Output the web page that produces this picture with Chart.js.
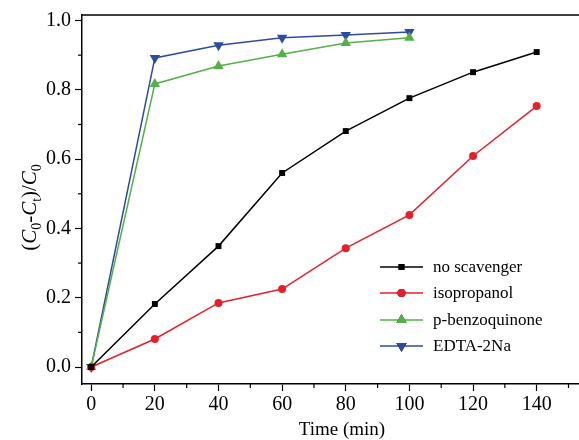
<!DOCTYPE html>
<html>
<head>
<meta charset="utf-8">
<script src="https://cdn.jsdelivr.net/npm/chart.js@4.4.1/dist/chart.umd.min.js"></script>
<style>
  html, body { margin: 0; padding: 0; background: #fff; overflow: hidden; }
  #wrap { position: relative; width: 579px; height: 440px; }
  canvas { display: block; }
</style>
</head>
<body>
<div id="wrap"><canvas id="scavenger_chart"></canvas></div>
<script>
/* =========================
   Data
========================= */
const times = [0, 20, 40, 60, 80, 100, 120, 140];
const timesShort = [0, 20, 40, 60, 80, 100];

const noScavenger = [0, 0.182, 0.349, 0.560, 0.681, 0.776, 0.851, 0.909];
const isopropanol = [0, 0.081, 0.185, 0.225, 0.343, 0.439, 0.609, 0.753];
const benzoquinone = [0, 0.817, 0.869, 0.903, 0.935, 0.950];
const edta = [0, 0.892, 0.929, 0.950, 0.958, 0.967];

const seriesLabels = ['no scavenger', 'isopropanol', 'p-benzoquinone', 'EDTA-2Na'];
const xTicks = [0, 20, 40, 60, 80, 100, 120, 140];
const yTicks = [0, 0.2, 0.4, 0.6, 0.8, 1.0];
const xMinorTicks = [10, 30, 50, 70, 90, 110, 130, 150];
const yMinorTicks = [0.1, 0.3, 0.5, 0.7, 0.9];

const FONT = '"Liberation Serif", "Times New Roman", serif';

function toPoints(xs, ys) {
    return ys.map((y, i) => ({ x: xs[i], y: y }));
}

/* =========================
   Extra drawing: frame, minor ticks, titles, legend
========================= */
const decorPlugin = {
    id: 'decor',
    afterDraw(chart) {
        const ctx = chart.ctx;
        const area = chart.chartArea;
        const xs = chart.scales.x;
        const ys = chart.scales.y;

        ctx.save();
        ctx.strokeStyle = '#000';
        ctx.lineWidth = 1.5;

        // top frame line
        ctx.beginPath();
        ctx.moveTo(area.left, area.top);
        ctx.lineTo(chart.width, area.top);
        ctx.stroke();

        // minor ticks
        ctx.lineWidth = 1.2;
        xMinorTicks.forEach(v => {
            const px = xs.getPixelForValue(v);
            if (px > chart.width) return;
            ctx.beginPath();
            ctx.moveTo(px, area.bottom);
            ctx.lineTo(px, area.bottom + 4);
            ctx.stroke();
        });
        yMinorTicks.forEach(v => {
            const py = ys.getPixelForValue(v);
            ctx.beginPath();
            ctx.moveTo(area.left, py);
            ctx.lineTo(area.left - 4, py);
            ctx.stroke();
        });

        // x axis title
        ctx.fillStyle = '#000';
        ctx.font = '19px ' + FONT;
        ctx.textAlign = 'center';
        ctx.textBaseline = 'middle';
        ctx.fillText('Time (min)', 342, 430);

        // y axis title: (C0-Ct)/C0
        ctx.translate(29, (area.top + area.bottom) / 2 + 8);
        ctx.rotate(-Math.PI / 2);
        ctx.textAlign = 'left';
        ctx.textBaseline = 'alphabetic';
        const parts = [
            { t: '(', f: '21px ' + FONT, dy: 0 },
            { t: 'C', f: 'italic 21px ' + FONT, dy: 0 },
            { t: '0', f: '14px ' + FONT, dy: 5 },
            { t: '-', f: '21px ' + FONT, dy: 0 },
            { t: 'C', f: 'italic 21px ' + FONT, dy: 0 },
            { t: 't', f: '14px ' + FONT, dy: 5 },
            { t: ')/', f: '21px ' + FONT, dy: 0 },
            { t: 'C', f: 'italic 21px ' + FONT, dy: 0 },
            { t: '0', f: '14px ' + FONT, dy: 5 }
        ];
        let total = 0;
        parts.forEach(p => { ctx.font = p.f; total += ctx.measureText(p.t).width; });
        let cx = -total / 2;
        parts.forEach(p => {
            ctx.font = p.f;
            ctx.fillText(p.t, cx, 7 + p.dy);
            cx += ctx.measureText(p.t).width;
        });
        ctx.restore();

        // legend
        ctx.save();
        const lx0 = 380, lx1 = 423, tx = 433;
        const rowY = [267, 293, 320, 346];
        chart.data.datasets.forEach((ds, i) => {
            const y = rowY[i];
            ctx.strokeStyle = ds.borderColor;
            ctx.lineWidth = 1.5;
            ctx.beginPath();
            ctx.moveTo(lx0, y);
            ctx.lineTo(lx1, y);
            ctx.stroke();
            Chart.helpers.drawPoint(ctx, {
                pointStyle: ds.pointStyle,
                radius: ds.pointRadius,
                rotation: ds.pointRotation || 0,
                borderWidth: 0
            }, (lx0 + lx1) / 2, y);
            ctx.fillStyle = ds.backgroundColor;
            ctx.fill();
            ctx.fillStyle = '#000';
            ctx.font = '17px ' + FONT;
            ctx.textBaseline = 'middle';
            ctx.fillText(ds.label, tx, y + 1);
        });
        ctx.restore();
    }
};

/* =========================
   Chart
========================= */
const ctx = document.getElementById('scavenger_chart').getContext('2d');

function makeSet(label, xs, ys, color, style, radius, rotation) {
    return {
        label: label,
        data: toPoints(xs, ys),
        borderColor: color,
        backgroundColor: color,
        borderWidth: 1.5,
        pointStyle: style,
        pointRadius: radius,
        pointRotation: rotation,
        pointBorderWidth: 0,
        pointBackgroundColor: color,
        tension: 0,
        fill: false
    };
}

new Chart(ctx, {
    type: 'line',
    data: {
        datasets: [
            makeSet(seriesLabels[0], times, noScavenger, '#000000', 'rect', 4.2, 0),
            makeSet(seriesLabels[1], times, isopropanol, '#e4202a', 'circle', 4, 0),
            makeSet(seriesLabels[2], timesShort, benzoquinone, '#55b047', 'triangle', 6, 0),
            makeSet(seriesLabels[3], timesShort, edta, '#2e4c9f', 'triangle', 6, 180)
        ]
    },
    options: {
        responsive: true,
        maintainAspectRatio: false,
        animation: false,
        layout: { autoPadding: false, padding: { top: 15, right: 0, left: 0, bottom: 0 } },
        plugins: {
            legend: { display: false },
            tooltip: { enabled: false }
        },
        scales: {
            x: {
                type: 'linear',
                min: -2.9,
                max: 153.3,
                afterBuildTicks: scale => { scale.ticks = xTicks.map(v => ({ value: v })); },
                afterFit: scale => {
                    scale.height = 56;
                    scale.paddingLeft = 0;
                    scale.paddingRight = 0;
                },
                border: { display: true, color: '#000', width: 1.5 },
                grid: { display: true, drawOnChartArea: false, drawTicks: true, tickLength: 7, color: '#000', tickWidth: 1.2 },
                ticks: { color: '#000', padding: 2, font: { family: FONT, size: 20 }, maxRotation: 0 },
                title: { display: false }
            },
            y: {
                type: 'linear',
                min: -0.049,
                max: 1.016,
                afterBuildTicks: scale => { scale.ticks = yTicks.map(v => ({ value: v })); },
                afterFit: scale => {
                    scale.width = 82;
                    scale.paddingTop = 0;
                    scale.paddingBottom = 0;
                },
                border: { display: true, color: '#000', width: 1.5 },
                grid: { display: true, drawOnChartArea: false, drawTicks: true, tickLength: 7, color: '#000', tickWidth: 1.2 },
                ticks: { color: '#000', padding: 4, font: { family: FONT, size: 20 }, callback: v => v.toFixed(1) }
            }
        }
    },
    plugins: [decorPlugin]
});
</script>
</body>
</html>
